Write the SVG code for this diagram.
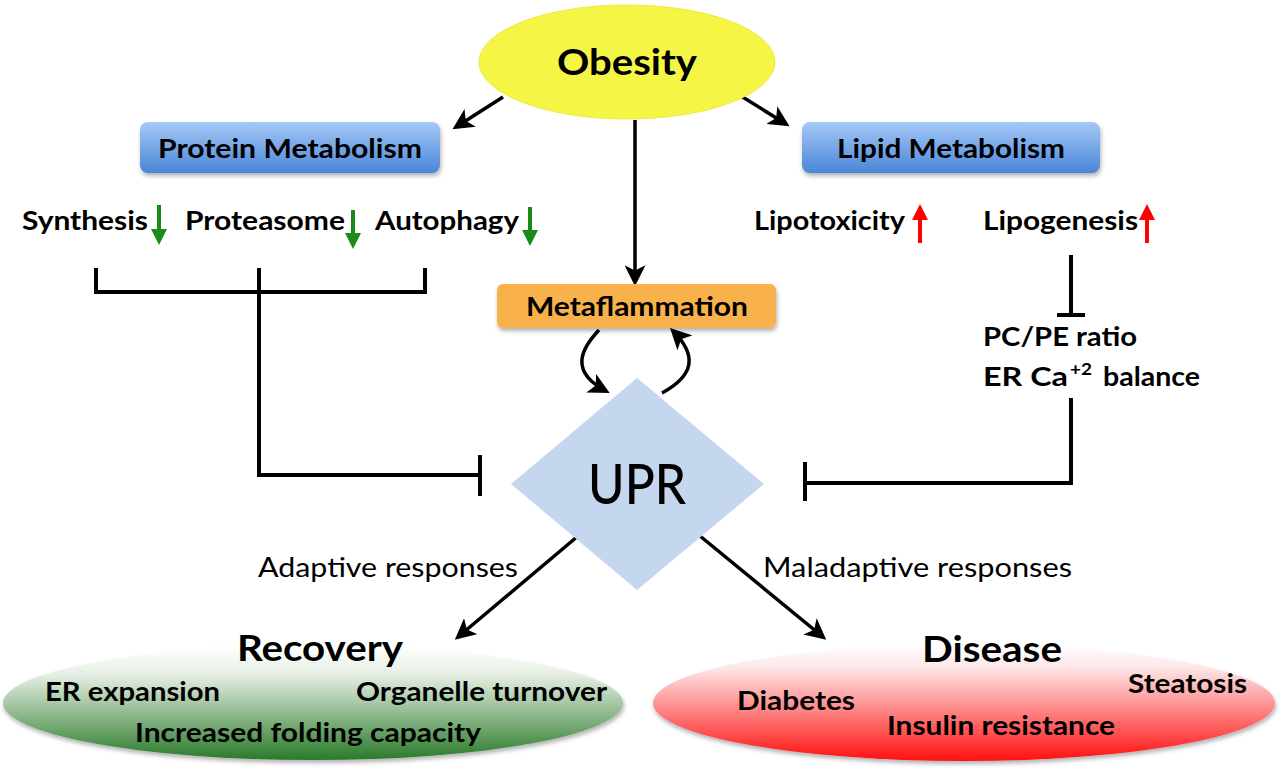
<svg xmlns="http://www.w3.org/2000/svg" width="1280" height="772" viewBox="0 0 1280 772">
<style>
text{font-family:Lato,"Open Sans","Liberation Sans",sans-serif;fill:#000}
.b{font-weight:bold}
.t26{font-size:27px}
.ln{stroke:#000;stroke-width:4;fill:none}
.ar{stroke:#000;stroke-width:3.5;fill:none;marker-end:url(#ah)}
</style>
<defs>
<marker id="ah" viewBox="0 0 10 10" refX="8" refY="5" markerWidth="6" markerHeight="6" orient="auto" markerUnits="strokeWidth">
<path d="M0,0 L10,5 L0,10 L2.5,5 z" fill="#000"/>
</marker>
<linearGradient id="gblue" x1="0" y1="0" x2="0" y2="1">
<stop offset="0" stop-color="#a5c8f6"/><stop offset="1" stop-color="#4a86d8"/>
</linearGradient>
<linearGradient id="ggreen" x1="0" y1="0" x2="0" y2="1">
<stop offset="0" stop-color="#ffffff"/><stop offset="0.25" stop-color="#e6efe4"/><stop offset="1" stop-color="#2a7a2a"/>
</linearGradient>
<linearGradient id="gred" x1="0" y1="0" x2="0" y2="1">
<stop offset="0" stop-color="#ffffff"/><stop offset="0.2" stop-color="#fde6e6"/><stop offset="1" stop-color="#ff1010"/>
</linearGradient>
<filter id="sh" x="-10%" y="-10%" width="120%" height="130%">
<feDropShadow dx="1" dy="3" stdDeviation="2" flood-color="#000" flood-opacity="0.3"/>
</filter>
</defs>
<rect width="1280" height="772" fill="#fff"/>

<g id="connectors">
<line class="ar" x1="503" y1="97" x2="456" y2="127"/>
<line class="ar" x1="741" y1="96" x2="786" y2="124"/>
<line class="ar" x1="635" y1="120" x2="635" y2="282"/>
<polyline class="ln" points="96,268 96,292 425,292 425,268"/>
<polyline class="ln" points="259,268 259,475 480,475"/>
<line class="ln" x1="480" y1="455" x2="480" y2="496"/>
<line class="ln" x1="1071" y1="255" x2="1071" y2="315"/>
<line class="ln" x1="1057" y1="315" x2="1085" y2="315"/>
<polyline class="ln" points="1071,398 1071,483 805,483"/>
<line class="ln" x1="805" y1="462" x2="805" y2="501"/>
<path class="ar" d="M599,330 C580,350 570,372 606,391"/>
<path class="ar" d="M662,393 C695,375 697,355 673,331"/>
<line class="ar" x1="578" y1="536" x2="458" y2="637"/>
<line class="ar" x1="700" y1="536" x2="823" y2="637"/>
</g>

<g id="obesity">
<ellipse cx="627" cy="62" rx="148" ry="57" fill="#f5f546" stroke="#efe846" stroke-width="1"/>
<text x="627" y="75" text-anchor="middle" class="b" font-size="37" textLength="140" lengthAdjust="spacingAndGlyphs">Obesity</text>
</g>

<g id="protein-metabolism">
<rect x="140" y="122" width="300" height="51" rx="8" fill="url(#gblue)" filter="url(#sh)"/>
<text x="290" y="158" text-anchor="middle" class="b t26" textLength="264" lengthAdjust="spacingAndGlyphs">Protein Metabolism</text>
</g>

<g id="lipid-metabolism">
<rect x="802" y="122" width="298" height="51" rx="8" fill="url(#gblue)" filter="url(#sh)"/>
<text x="951" y="158" text-anchor="middle" class="b t26" textLength="228" lengthAdjust="spacingAndGlyphs">Lipid Metabolism</text>
</g>

<g id="protein-items">
<text x="22" y="230" class="b t26" textLength="126" lengthAdjust="spacingAndGlyphs">Synthesis</text>
<text x="185" y="230" class="b t26" textLength="160" lengthAdjust="spacingAndGlyphs">Proteasome</text>
<text x="375" y="230" class="b t26" textLength="144" lengthAdjust="spacingAndGlyphs">Autophagy</text>
<g fill="#1a8a1a" stroke="#1a8a1a">
<line x1="159" y1="205" x2="159" y2="233" stroke-width="4"/><path d="M151,229 L159,245 L167,229 z" stroke="none"/>
<line x1="353" y1="210" x2="353" y2="237" stroke-width="4"/><path d="M345,233 L353,249 L361,233 z" stroke="none"/>
<line x1="530" y1="207" x2="530" y2="234" stroke-width="4"/><path d="M522,230 L530,246 L538,230 z" stroke="none"/>
</g>
</g>

<g id="lipid-items">
<text x="754" y="230" class="b t26" textLength="151" lengthAdjust="spacingAndGlyphs">Lipotoxicity</text>
<text x="983" y="230" class="b t26" textLength="155" lengthAdjust="spacingAndGlyphs">Lipogenesis</text>
<g fill="#ff0000" stroke="#ff0000">
<line x1="920" y1="215" x2="920" y2="243" stroke-width="4"/><path d="M912,220 L920,204 L928,220 z" stroke="none"/>
<line x1="1147" y1="215" x2="1147" y2="243" stroke-width="4"/><path d="M1139,220 L1147,204 L1155,220 z" stroke="none"/>
</g>
</g>

<g id="pcpe">
<text x="983" y="346" class="b t26" textLength="154" lengthAdjust="spacingAndGlyphs">PC/PE ratio</text>
<text y="386" class="b t26"><tspan x="983" textLength="85" lengthAdjust="spacingAndGlyphs">ER Ca</tspan><tspan x="1070" font-size="17" dy="-11" textLength="22" lengthAdjust="spacingAndGlyphs">+2</tspan><tspan x="1103" dy="11" textLength="97" lengthAdjust="spacingAndGlyphs">balance</tspan></text>
</g>

<g id="metaflammation">
<rect x="497" y="284" width="279" height="44" rx="6" fill="#f9b24c" filter="url(#sh)"/>
<text x="637" y="316" text-anchor="middle" class="b t26" textLength="222" lengthAdjust="spacingAndGlyphs">Metaflammation</text>
</g>

<g id="upr">
<polygon points="637,378 764,484 637,590 511,484" fill="#c5d7ef"/>
<text x="637" y="504" text-anchor="middle" font-size="56" font-weight="500" textLength="98" lengthAdjust="spacingAndGlyphs">UPR</text>
</g>

<g id="labels">
<text x="258" y="577" class="t26" textLength="260" lengthAdjust="spacingAndGlyphs">Adaptive responses</text>
<text x="763" y="577" class="t26" textLength="309" lengthAdjust="spacingAndGlyphs">Maladaptive responses</text>
</g>

<g id="recovery">
<ellipse cx="313" cy="703" rx="310" ry="57" fill="url(#ggreen)" filter="url(#sh)"/>
<text x="320" y="661" text-anchor="middle" class="b" font-size="37" textLength="166" lengthAdjust="spacingAndGlyphs">Recovery</text>
<text x="45" y="701" class="b t26" textLength="175" lengthAdjust="spacingAndGlyphs">ER expansion</text>
<text x="356" y="701" class="b t26" textLength="251" lengthAdjust="spacingAndGlyphs">Organelle turnover</text>
<text x="135" y="742" class="b t26" textLength="346" lengthAdjust="spacingAndGlyphs">Increased folding capacity</text>
</g>

<g id="disease">
<ellipse cx="964" cy="703" rx="311" ry="58" fill="url(#gred)" filter="url(#sh)"/>
<text x="992" y="662" text-anchor="middle" class="b" font-size="37" textLength="140" lengthAdjust="spacingAndGlyphs">Disease</text>
<text x="737" y="710" class="b t26" textLength="118" lengthAdjust="spacingAndGlyphs">Diabetes</text>
<text x="1128" y="693" class="b t26" textLength="119" lengthAdjust="spacingAndGlyphs">Steatosis</text>
<text x="887" y="735" class="b t26" textLength="228" lengthAdjust="spacingAndGlyphs">Insulin resistance</text>
</g>
</svg>
